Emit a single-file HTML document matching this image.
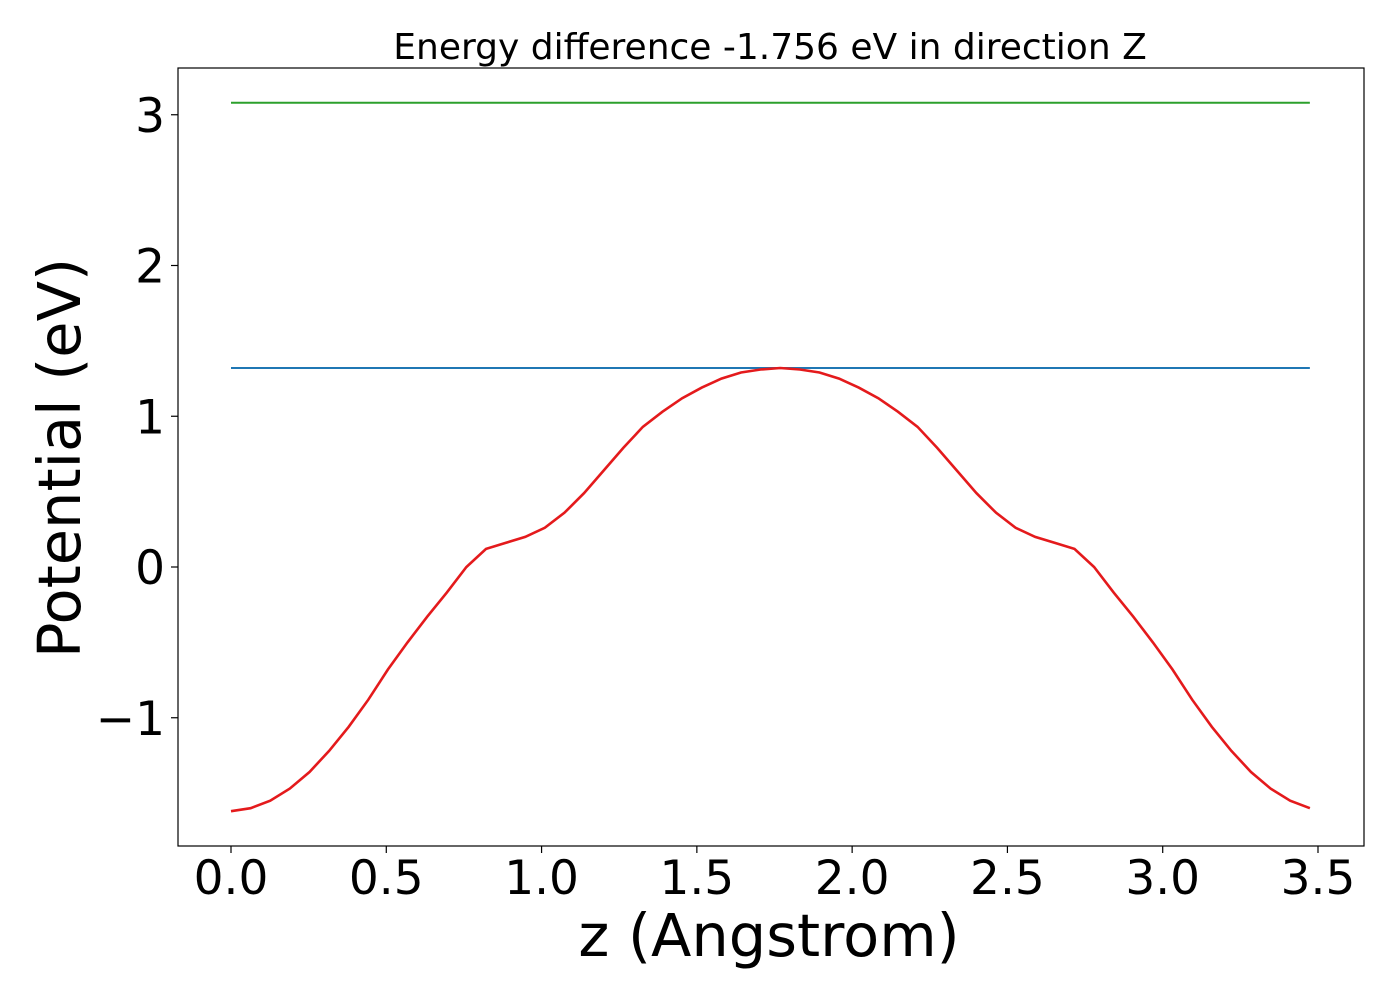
<!DOCTYPE html>
<html><head><meta charset="utf-8"><style>
body{margin:0;background:#fff;}
svg{display:block;font-family:"DejaVu Sans","Liberation Sans",sans-serif;}
</style></head><body>
<svg id="chart" width="1400" height="1000">
<rect x="178" y="68" width="1186" height="778" fill="none" stroke="#000" stroke-width="1.2"/>
<text x="770" y="59" font-size="36" text-anchor="middle">Energy difference -1.756 eV in direction Z</text>
<text x="769" y="956" font-size="59" text-anchor="middle">z (Angstrom)</text>
<text transform="translate(80,458) rotate(-90)" font-size="59" text-anchor="middle">Potential (eV)</text>
<g id="ticks"></g>
<g id="marks"></g>
</svg>
<script>
const xTicks=[0,0.5,1,1.5,2,2.5,3,3.5];
const xTickLabels=["0.0","0.5","1.0","1.5","2.0","2.5","3.0","3.5"];
const yTicks=[-1,0,1,2,3];
const yTickLabels=["\u22121","0","1","2","3"];
const leftValues=[-1.62,-1.60,-1.55,-1.47,-1.36,-1.22,-1.06,-0.88,-0.68,-0.50,-0.33,-0.17,0.00,0.12,0.16,0.20,0.26,0.36,0.49,0.64,0.79,0.93,1.03,1.12,1.19,1.25,1.29,1.31,1.32];
const potential=leftValues.concat(leftValues.slice(1,28).reverse());
const zStep=0.06316;
const blueLevel=1.32;
const greenLevel=3.08;
const NS="http://www.w3.org/2000/svg";
const xs=v=>231+v*310.57;
const ys=v=>567-v*150.75;
const tg=document.getElementById('ticks'), mg=document.getElementById('marks');
function mk(tag,attrs,parent){const e=document.createElementNS(NS,tag);for(const k in attrs)e.setAttribute(k,attrs[k]);parent.appendChild(e);return e;}
xTicks.forEach((t,i)=>{
 const l=mk('line',{x1:xs(t),x2:xs(t),y1:846,y2:853,stroke:'#000','stroke-width':1.2},tg);
 
 
 const tx=mk('text',{x:xs(t),y:894,'font-size':47,'text-anchor':'middle'},tg);tx.textContent=xTickLabels[i];
 
 
});
yTicks.forEach((t,i)=>{
 const l=mk('line',{x1:171,x2:178,y1:ys(t),y2:ys(t),stroke:'#000','stroke-width':1.2},tg);
 
 
 const tx=mk('text',{x:165,y:ys(t)+17,'font-size':47,'text-anchor':'end'},tg);tx.textContent=yTickLabels[i];
 
 
});
const zMax=zStep*(potential.length-1);
const g=mk('line',{x1:xs(0),x2:xs(zMax),y1:ys(greenLevel),y2:ys(greenLevel),stroke:'#2ca02c','stroke-width':2},mg);


const b=mk('line',{x1:xs(0),x2:xs(zMax),y1:ys(blueLevel),y2:ys(blueLevel),stroke:'#1f77b4','stroke-width':2},mg);


const pts=potential.map((v,i)=>xs(i*zStep).toFixed(1)+','+ys(v).toFixed(1)).join(' ');
const p=mk('polyline',{points:pts,fill:'none',stroke:'#e41a1c','stroke-width':2.6},mg);


</script>
</body></html>
